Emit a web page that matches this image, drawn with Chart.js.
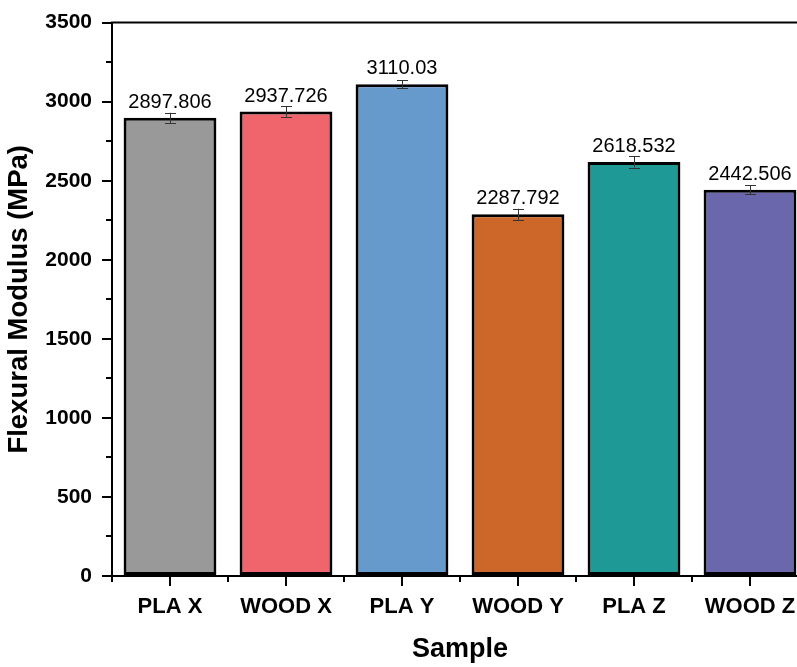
<!DOCTYPE html>
<html>
<head>
<meta charset="utf-8">
<script src="https://cdn.jsdelivr.net/npm/chart.js@4/dist/chart.umd.min.js"></script>
<style>
  html, body { margin: 0; padding: 0; background: #fff; overflow: hidden; }
  #wrap { width: 830px; height: 667px; }
</style>
</head>
<body>
<div id="wrap"><canvas id="modChart" width="830" height="667"></canvas></div>
<script>
const samples = ["PLA X", "WOOD X", "PLA Y", "WOOD Y", "PLA Z", "WOOD Z"];
const modulus = [2897.806, 2937.726, 3110.03, 2287.792, 2618.532, 2442.506];
const stdDev = [32, 33, 25, 35, 35, 29];
const barColors = ["#999999", "#F0646B", "#6699CC", "#CC6629", "#1F9996", "#6B67AD"];
const valueLabels = ["2897.806", "2937.726", "3110.03", "2287.792", "2618.532", "2442.506"];

const FONT = "'Liberation Sans', Arial, sans-serif";

// error bars, value labels, minor ticks and the top frame line
const extras = {
  id: "extras",
  afterDatasetsDraw(chart) {
    const ctx = chart.ctx;
    const x = chart.scales.x, y = chart.scales.y;
    const area = chart.chartArea;
    ctx.save();

    // error bars
    ctx.strokeStyle = "#333";
    ctx.lineWidth = 1;
    modulus.forEach(function (v, i) {
      const cx = Math.round(x.getPixelForValue(i)) + 0.5;
      const hi = y.getPixelForValue(v + stdDev[i]);
      const lo = y.getPixelForValue(v - stdDev[i]);
      ctx.beginPath();
      ctx.moveTo(cx, hi); ctx.lineTo(cx, lo);
      ctx.moveTo(cx - 5.5, Math.round(hi) + 0.5); ctx.lineTo(cx + 5.5, Math.round(hi) + 0.5);
      ctx.moveTo(cx - 5.5, Math.round(lo) + 0.5); ctx.lineTo(cx + 5.5, Math.round(lo) + 0.5);
      ctx.stroke();
    });

    // value labels
    ctx.fillStyle = "#000";
    ctx.font = "20px " + FONT;
    ctx.textAlign = "center";
    ctx.textBaseline = "alphabetic";
    modulus.forEach(function (v, i) {
      ctx.fillText(valueLabels[i], x.getPixelForValue(i), y.getPixelForValue(v) - 10);
    });

    // minor ticks
    ctx.strokeStyle = "#000";
    ctx.lineWidth = 2;
    ctx.beginPath();
    for (let m = 250; m < 3500; m += 500) {
      const py = Math.round(y.getPixelForValue(m));
      ctx.moveTo(area.left - 6, py); ctx.lineTo(area.left, py);
    }
    for (let b = 0; b <= samples.length; b++) {
      const px = Math.round(x.getPixelForValue(b - 0.5));
      ctx.moveTo(px, area.bottom); ctx.lineTo(px, area.bottom + 6);
    }
    ctx.stroke();

    // top and right frame
    ctx.beginPath();
    ctx.moveTo(area.left - 1, area.top);
    ctx.lineTo(area.right, area.top);
    ctx.lineTo(area.right, area.bottom);
    ctx.stroke();
    ctx.restore();
  }
};

new Chart(document.getElementById("modChart"), {
  type: "bar",
  data: {
    labels: samples,
    datasets: [{
      data: modulus,
      backgroundColor: barColors,
      borderColor: "#000",
      borderWidth: 3,
      borderSkipped: false,
      categoryPercentage: 1,
      barPercentage: 0.8
    }]
  },
  options: {
    responsive: false,
    animation: false,
    layout: { padding: { top: 17, right: 22, left: 0, bottom: 0 } },
    plugins: { legend: { display: false }, tooltip: { enabled: false } },
    scales: {
      x: {
        offset: true,
        grid: { offset: false, drawOnChartArea: false, color: "#000", lineWidth: 2, tickLength: 10 },
        border: { color: "#000", width: 2 },
        ticks: { color: "#000", font: { family: FONT, size: 22, weight: "bold" }, padding: 8, maxRotation: 0 },
        title: { display: true, text: "Sample", color: "#000", font: { family: FONT, size: 27, weight: "bold" }, padding: { top: 0, bottom: 1 } },
        afterFit(scale) { scale.height = 91; }
      },
      y: {
        min: 0,
        max: 3500,
        grid: { drawOnChartArea: false, color: "#000", lineWidth: 2, tickLength: 10 },
        border: { color: "#000", width: 2 },
        ticks: {
          stepSize: 500, color: "#000", padding: 10,
          font: { family: FONT, size: 21, weight: "bold" },
          callback: function (v) { return String(v); }
        },
        title: { display: true, text: "Flexural Modulus (MPa)", color: "#000", font: { family: FONT, size: 27.5, weight: "bold" }, padding: { top: 3, bottom: 0 } },
        afterFit(scale) { scale.width = 112; }
      }
    }
  },
  plugins: [extras]
});
</script>
</body>
</html>
